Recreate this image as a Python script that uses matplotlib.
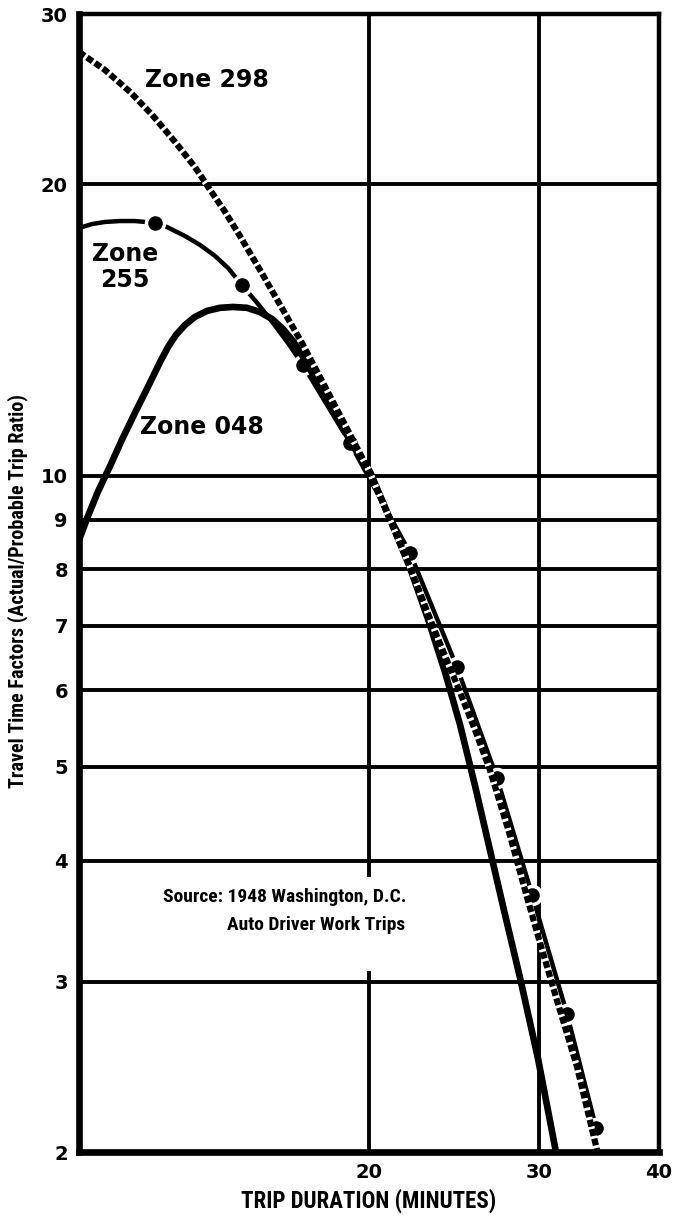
import matplotlib
matplotlib.use("Agg")
import matplotlib.pyplot as plt
from matplotlib import font_manager
from matplotlib.ticker import FixedLocator, NullLocator

# Trip duration (minutes) vs. travel time factor, one curve per zone
zone298_min = [10.0, 10.64, 11.30, 11.91, 12.58, 13.19, 13.68, 14.18, 14.69, 15.41,
               16.28, 17.04, 17.92, 18.89, 20.05, 21.03, 22.06, 23.31, 24.68, 25.77,
               26.71, 28.01, 29.17, 30.10, 31.34, 32.88, 34.49]
zone298_fac = [27.41, 26.26, 24.92, 23.60, 22.13, 20.85, 19.74, 18.73, 17.69, 16.32,
               14.84, 13.71, 12.47, 11.28, 10.07, 9.00, 8.05, 6.98, 6.08, 5.46,
               4.96, 4.25, 3.67, 3.29, 2.87, 2.45, 2.01]

zone255_min = [10.0, 10.32, 10.64, 11.03, 11.43, 11.99, 12.34, 12.88, 13.35, 13.84,
               14.28, 14.76, 15.34, 15.90, 16.48, 17.08, 19.11, 22.06, 24.68, 27.16,
               29.53, 32.10, 34.41]
zone255_fac = [18.03, 18.20, 18.29, 18.33, 18.33, 18.25, 18.07, 17.69, 17.32, 16.87,
               16.39, 15.74, 15.05, 14.38, 13.71, 13.01, 10.81, 8.32, 6.34, 4.87,
               3.69, 2.78, 2.12]
# plotted observations for zone 255
zone255_obs_min = [11.99, 14.76, 17.08, 19.11, 22.06, 24.68, 27.16, 29.53, 32.10, 34.41]
zone255_obs_fac = [18.25, 15.74, 13.01, 10.81, 8.32, 6.34, 4.87, 3.69, 2.78, 2.12]

zone048_min = [10.0, 10.22, 10.46, 10.77, 11.08, 11.43, 11.79, 12.14, 12.37, 12.61,
               12.88, 13.19, 13.58, 14.01, 14.45, 14.94, 15.41, 15.86, 16.28, 16.68,
               17.08, 17.79, 18.53, 19.25, 20.05, 21.03, 22.06, 23.03, 23.98, 24.86,
               25.77, 26.71, 27.68, 28.69, 29.95, 31.27]
zone048_fac = [8.58, 9.09, 9.62, 10.23, 10.89, 11.61, 12.35, 13.11, 13.58, 13.98,
               14.31, 14.59, 14.80, 14.91, 14.94, 14.91, 14.76, 14.52, 14.18, 13.78,
               13.27, 12.35, 11.50, 10.73, 10.09, 9.02, 8.03, 7.11, 6.27, 5.53,
               4.78, 4.10, 3.52, 3.03, 2.50, 2.00]

x_ticks = [20, 30, 40]
y_ticks = [2, 3, 4, 5, 6, 7, 8, 9, 10, 20, 30]
y_grid = [3, 4, 5, 6, 7, 8, 9, 10, 20]

installed = {f.name for f in font_manager.fontManager.ttflist}
narrow = next((n for n in ["Liberation Sans Narrow", "DejaVu Sans Condensed", "Roboto Condensed"]
               if n in installed), "DejaVu Sans")

W, H = 674, 1219
fig = plt.figure(figsize=(W / 100, H / 100), dpi=100)
ax = fig.add_axes([79 / W, 1 - 1152 / H, 580 / W, 1138 / H])
ax.set_xscale("log")
ax.set_yscale("log")
ax.set_xlim(10, 40)
ax.set_ylim(2, 30)

ax.xaxis.set_major_locator(FixedLocator(x_ticks))
ax.xaxis.set_minor_locator(NullLocator())
ax.yaxis.set_major_locator(FixedLocator(y_ticks))
ax.yaxis.set_minor_locator(NullLocator())
ax.set_xticklabels([str(t) for t in x_ticks])
ax.set_yticklabels([str(t) for t in y_ticks])
ax.tick_params(length=0, labelsize=14, pad=8)
for lab in ax.get_xticklabels() + ax.get_yticklabels():
    lab.set_fontweight("bold")

for side, lw in [("left", 4.8), ("bottom", 4.8), ("top", 3.2), ("right", 3.2)]:
    ax.spines[side].set_linewidth(lw)

# grid: the 20-minute line is broken around the source note
for v in y_grid:
    ax.axhline(v, color="black", lw=2.8, zorder=1)
ax.vlines(30, 2, 30, color="black", lw=2.8, zorder=1)
ax.vlines([20, 20], [2, 3.85], [3.08, 30], color="black", lw=2.8, zorder=1)

ax.plot(zone255_min, zone255_fac, color="black", lw=3.2, zorder=3)
ax.plot(zone255_obs_min, zone255_obs_fac, "o", ms=13, mfc="black", mec="white", mew=2.5, zorder=3.5)
ax.plot(zone048_min, zone048_fac, color="black", lw=4.8, zorder=4)
ax.plot(zone298_min, zone298_fac, color="black", lw=4.5, linestyle=(0, (1.1, 0.45)),
        gapcolor="white", dash_capstyle="butt", zorder=5)


def fx(px):
    return px / W


def fy(py):
    return 1 - py / H


fig.text(fx(145), fy(80), "Zone 298", fontsize=17, weight="bold", va="center", ha="left")
fig.text(fx(125), fy(267), "Zone\n255", fontsize=17, weight="bold", va="center", ha="center",
         linespacing=1.1)
fig.text(fx(140), fy(427), "Zone 048", fontsize=17, weight="bold", va="center", ha="left")

fig.text(fx(163), fy(897), "Source: 1948 Washington, D.C.", family=narrow, fontsize=14,
         weight="bold", va="center", ha="left")
fig.text(fx(227), fy(925), "Auto Driver Work Trips", family=narrow, fontsize=14,
         weight="bold", va="center", ha="left")

fig.text(fx(18), fy(591), "Travel Time Factors (Actual/Probable Trip Ratio)", family=narrow,
         fontsize=14.5, weight="bold", rotation=90, va="center", ha="center")
fig.text(fx(369), fy(1201), "TRIP DURATION (MINUTES)", family=narrow, fontsize=16.5,
         weight="bold", va="center", ha="center")

fig.savefig("out.png", dpi=100)
